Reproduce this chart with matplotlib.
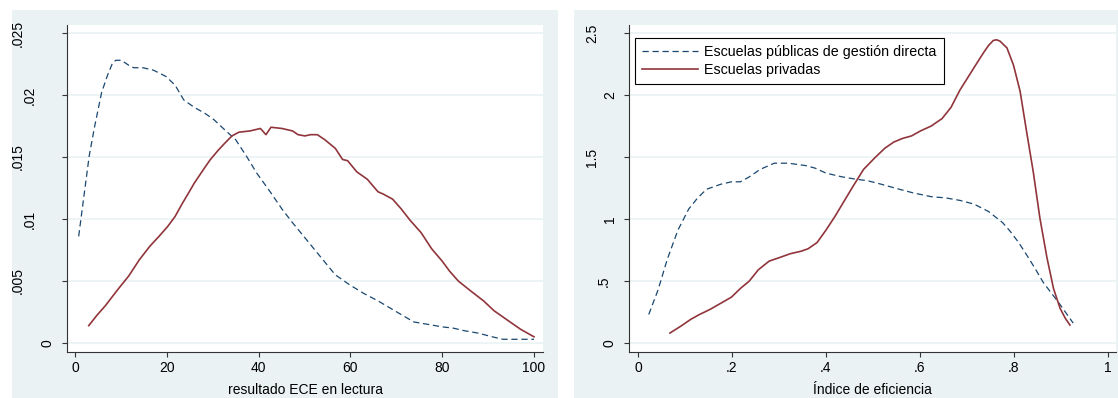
import matplotlib
matplotlib.use('Agg')
import matplotlib.pyplot as plt
import matplotlib.transforms as mtransforms
from matplotlib.patches import Rectangle

plt.rcParams['font.family'] = ['Liberation Sans', 'DejaVu Sans']
plt.rcParams['font.size'] = 10

# -------------------- datos --------------------
# panel izquierdo: resultado ECE en lectura
ece_pub_x = [0.8, 3.1, 4.3, 5.8, 7.0, 8.2, 8.9, 10.1, 11.7, 12.8, 14.8, 17.1, 19.8, 21.8,
             23.7, 26.0, 28.4, 30.3, 32.6, 35.0, 37.3, 39.6, 42.7, 45.1, 47.4, 50.5, 53.6,
             56.7, 59.8, 62.9, 66.0, 69.2, 71.5, 73.8, 76.9, 80.0, 82.4, 84.7, 87.8, 90.9,
             93.2, 96.3, 100.0]
ece_pub_y = [.0086, .0151, .0175, .0202, .0215, .0226, .0228, .0228, .0224, .0222, .0222,
             .0220, .0215, .0208, .0196, .0190, .0185, .0180, .0172, .0164, .0151, .0137,
             .0121, .0108, .0097, .0083, .0069, .0055, .0047, .0040, .0034, .0027, .0022,
             .0017, .0015, .0013, .0012, .0010, .0008, .0005, .0003, .0003, .0003]

ece_priv_x = [3.0, 4.7, 6.6, 9.3, 11.7, 14.0, 16.3, 18.3, 20.2, 21.8, 23.3, 24.9, 26.0, 28.0,
              29.5, 31.1, 32.6, 34.2, 35.7, 38.1, 40.4, 41.6, 42.7, 45.1, 47.4, 48.6, 50.1,
              51.3, 52.8, 54.4, 56.7, 58.3, 59.4, 61.4, 63.7, 66.0, 67.2, 69.2, 71.1, 73.0,
              75.4, 77.7, 80.0, 81.6, 83.5, 86.2, 89.0, 91.3, 94.0, 97.1, 100.0]
ece_priv_y = [.0014, .0022, .0030, .0043, .0054, .0067, .0078, .0086, .0094, .0102, .0112,
              .0122, .0129, .0140, .0148, .0155, .0161, .0167, .0170, .0171, .0173, .0168,
              .0174, .0173, .0171, .0168, .0167, .0168, .0168, .0164, .0157, .0148, .0147,
              .0138, .0132, .0122, .0120, .0116, .0108, .0099, .0089, .0076, .0066, .0058,
              .0050, .0042, .0034, .0026, .0019, .0011, .0005]

# panel derecho: índice de eficiencia
ef_pub_x = [.023, .043, .062, .085, .108, .127, .146, .176, .199, .218, .237, .260, .290,
            .320, .358, .377, .400, .434, .465, .487, .518, .556, .586, .624, .655, .685,
            .715, .746, .776, .792, .810, .827, .845, .862, .880, .898, .926]
ef_pub_y = [.23, .43, .67, .91, 1.08, 1.17, 1.24, 1.28, 1.30, 1.30, 1.34, 1.40, 1.45, 1.45,
            1.43, 1.41, 1.37, 1.34, 1.32, 1.31, 1.28, 1.24, 1.21, 1.18, 1.17, 1.15, 1.12,
            1.06, .97, .90, .81, .71, .60, .49, .40, .31, .16]

ef_priv_x = [.068, .093, .112, .131, .153, .176, .199, .218, .237, .256, .279, .302, .324,
             .347, .362, .381, .400, .419, .438, .457, .480, .503, .525, .544, .563, .582,
             .601, .624, .647, .666, .685, .700, .714, .735, .746, .756, .763, .770, .785,
             .799, .813, .827, .841, .855, .870, .884, .898, .909, .919]
ef_priv_y = [.08, .14, .19, .23, .27, .32, .37, .44, .50, .59, .66, .69, .72, .74, .76, .81,
             .91, 1.02, 1.14, 1.26, 1.40, 1.49, 1.57, 1.62, 1.65, 1.67, 1.71, 1.75, 1.81,
             1.90, 2.04, 2.13, 2.215, 2.34, 2.40, 2.44, 2.445, 2.435, 2.38, 2.24, 2.03, 1.70,
             1.38, 1.01, .69, .44, .28, .20, .145]

left_xticks = [0, 20, 40, 60, 80, 100]
left_xlabels = ['0', '20', '40', '60', '80', '100']
left_yticks = [0, .005, .01, .015, .02, .025]
left_ylabels = ['0', '.005', '.01', '.015', '.02', '.025']
right_xticks = [0, .2, .4, .6, .8, 1]
right_xlabels = ['0', '.2', '.4', '.6', '.8', '1']
right_yticks = [0, .5, 1, 1.5, 2, 2.5]
right_ylabels = ['0', '.5', '1', '1.5', '2', '2.5']

legend_labels = ['Escuelas públicas de gestión directa', 'Escuelas privadas']

# -------------------- estilo Stata s2color --------------------
BG = '#EAF2F3'
NAVY = '#1A476F'
MAROON = '#90353B'
W, H, DPI = 1118, 398, 100


def text_width_px(s, size_px=14):
    # ancho aproximado (Arial): dígitos 0.556 em, punto 0.278 em
    return sum(0.278 if c == '.' else 0.556 for c in s) * size_px


def style_axes(ax, xticks, xlabels, yticks, ylabels, xlabel):
    ax.set_facecolor('white')
    for side in ['top', 'right']:
        ax.spines[side].set_visible(False)
    for side in ['left', 'bottom']:
        ax.spines[side].set_color('#333333')
        ax.spines[side].set_linewidth(0.8)
    ax.set_xticks(xticks, labels=xlabels)
    ax.set_yticks(yticks, labels=[''] * len(yticks))
    ax.tick_params(direction='out', length=3.6, width=0.8, color='#333333',
                   labelsize=10, pad=3)
    ax.grid(axis='y', color=BG, linewidth=1.2)
    ax.set_axisbelow(True)
    ax.set_xlabel(xlabel, fontsize=10, labelpad=6)
    # etiquetas del eje y verticales, como en Stata
    for yv, lab in zip(yticks, ylabels):
        off = (7 + 1.55 * text_width_px(lab)) / DPI
        tr = ax.get_yaxis_transform() + mtransforms.ScaledTranslation(
            -off, 0, ax.figure.dpi_scale_trans)
        ax.text(0, yv, lab, transform=tr, rotation=90, ha='center', va='center',
                fontsize=10)


fig = plt.figure(figsize=(W / DPI, H / DPI), dpi=DPI)
fig.patch.set_facecolor('white')
# fondos de cada panel
fig.patches.append(Rectangle((12 / W, 0), 546 / W, 1 - 10 / H, transform=fig.transFigure,
                             facecolor=BG, edgecolor='none', zorder=-10))
fig.patches.append(Rectangle((574 / W, 0), 544 / W, 1 - 10 / H, transform=fig.transFigure,
                             facecolor=BG, edgecolor='none', zorder=-10))

bottom = 1 - 352 / H
height = (352 - 25) / H
ax1 = fig.add_axes([67 / W, bottom, (543 - 67) / W, height])
ax2 = fig.add_axes([629 / W, bottom, (1116 - 629) / W, height])

# -------------------- panel izquierdo --------------------
l1, = ax1.plot(ece_pub_x, ece_pub_y, color=NAVY, lw=0.9)
l1.set_dashes((5, 3))
ax1.plot(ece_priv_x, ece_priv_y, color=MAROON, lw=1.2)
ax1.set_xlim(-1.74, 101.96)
ax1.set_ylim(-0.000726, 0.025645)
style_axes(ax1, left_xticks, left_xlabels, left_yticks, left_ylabels,
           'resultado ECE en lectura')

# -------------------- panel derecho --------------------
l2, = ax2.plot(ef_pub_x, ef_pub_y, color=NAVY, lw=0.9, label=legend_labels[0])
l2.set_dashes((5, 3))
ax2.plot(ef_priv_x, ef_priv_y, color=MAROON, lw=1.2, label=legend_labels[1])
ax2.set_xlim(-0.019, 1.017)
ax2.set_ylim(-0.0726, 2.5645)
style_axes(ax2, right_xticks, right_xlabels, right_yticks, right_ylabels,
           'Índice de eficiencia')

leg = ax2.legend(loc='upper left', bbox_to_anchor=(0.0123, 0.960), borderaxespad=0,
                 fancybox=False, framealpha=1, edgecolor='black', fontsize=10.3,
                 handlelength=3.9, handletextpad=0.45, labelspacing=0.25, borderpad=0.5)
leg.get_frame().set_linewidth(0.8)

fig.savefig('out.png', dpi=DPI, facecolor='white')
